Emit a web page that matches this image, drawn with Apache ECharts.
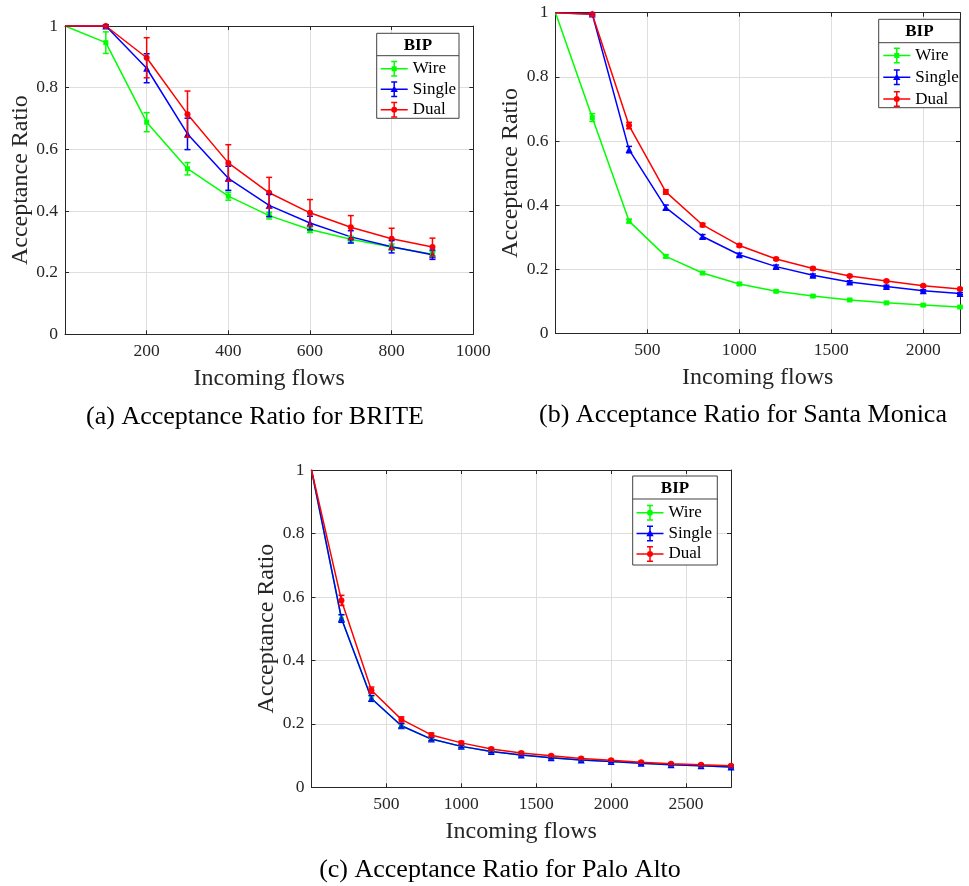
<!DOCTYPE html>
<html>
<head>
<meta charset="utf-8">
<script src="https://cdn.jsdelivr.net/npm/echarts@6/dist/echarts.min.js"></script>
<style>html,body{margin:0;padding:0;background:#fff}#c{width:969px;height:886px}</style>
</head>
<body>
<div id="c"></div>
<script>
// ---------- data: (a) BRITE ----------
const xA = [0, 100, 200, 300, 400, 500, 600, 700, 800, 900];
const wireA = [1, 0.946, 0.688, 0.537, 0.448, 0.385, 0.340, 0.308, 0.283, 0.260];
const wireAErr = [0, 0.035, 0.031, 0.020, 0.013, 0.011, 0.010, 0.010, 0.010, 0.008];
const singleA = [1, 1.0, 0.863, 0.650, 0.506, 0.418, 0.361, 0.316, 0.284, 0.258];
const singleAErr = [0, 0.004, 0.047, 0.051, 0.039, 0.036, 0.022, 0.020, 0.020, 0.015];
const dualA = [1, 1.0, 0.897, 0.714, 0.556, 0.459, 0.394, 0.347, 0.310, 0.283];
const dualAErr = [0, 0.003, 0.065, 0.075, 0.059, 0.050, 0.043, 0.038, 0.034, 0.029];

// ---------- data: (b) Santa Monica ----------
const xB = [0, 200, 400, 600, 800, 1000, 1200, 1400, 1600, 1800, 2000, 2200];
const wireB = [1, 0.673, 0.350, 0.240, 0.188, 0.154, 0.131, 0.116, 0.104, 0.095, 0.088, 0.082];
const wireBErr = [0, 0.012, 0.006, 0.005, 0.004, 0.004, 0.003, 0.003, 0.003, 0.003, 0.003, 0.003];
const singleB = [1, 0.996, 0.573, 0.392, 0.302, 0.245, 0.208, 0.181, 0.160, 0.146, 0.133, 0.124];
const singleBErr = [0, 0.004, 0.010, 0.008, 0.006, 0.005, 0.005, 0.004, 0.004, 0.004, 0.003, 0.003];
const dualB = [1, 0.995, 0.648, 0.441, 0.338, 0.274, 0.232, 0.202, 0.179, 0.163, 0.148, 0.138];
const dualBErr = [0, 0.004, 0.010, 0.007, 0.005, 0.004, 0.004, 0.004, 0.003, 0.003, 0.003, 0.003];

// ---------- data: (c) Palo Alto ----------
const xC = [0, 200, 400, 600, 800, 1000, 1200, 1400, 1600, 1800, 2000, 2200, 2400, 2600, 2800];
const wireC = [1, 0.532, 0.280, 0.194, 0.152, 0.129, 0.113, 0.102, 0.093, 0.086, 0.081, 0.0755, 0.071, 0.068, 0.064];
const wireCErr = [0, 0.012, 0.009, 0.007, 0.005, 0.004, 0.004, 0.003, 0.003, 0.003, 0.003, 0.003, 0.003, 0.003, 0.003];
const singleC = [1, 0.532, 0.280, 0.194, 0.152, 0.129, 0.113, 0.102, 0.093, 0.086, 0.081, 0.0755, 0.071, 0.068, 0.064];
const singleCErr = [0, 0.012, 0.009, 0.007, 0.005, 0.004, 0.004, 0.003, 0.003, 0.003, 0.003, 0.003, 0.003, 0.003, 0.003];
const dualC = [1, 0.589, 0.306, 0.214, 0.165, 0.140, 0.121, 0.108, 0.0997, 0.091, 0.085, 0.079, 0.0745, 0.071, 0.068];
const dualCErr = [0, 0.016, 0.010, 0.008, 0.006, 0.005, 0.004, 0.004, 0.003, 0.003, 0.003, 0.003, 0.003, 0.003, 0.003];

const yTicks = [0, 0.2, 0.4, 0.6, 0.8, 1];
const seriesNames = ['Wire', 'Single', 'Dual'];
const captions = ['(a) Acceptance Ratio for BRITE', '(b) Acceptance Ratio for Santa Monica', '(c) Acceptance Ratio for Palo Alto'];
const legendTitle = 'BIP';
const xName = 'Incoming flows';
const yName = 'Acceptance Ratio';

// ---------- styling ----------
const FONT = 'Liberation Serif';
const GREEN = '#00ff00', BLUE = '#0000ff', RED = '#ff0000';
const AXC = '#262626';
const GRIDC = '#dedede';

const grids = [
  { left: 65, top: 26, width: 408.3, height: 308.3 },
  { left: 555.5, top: 12.7, width: 404.5, height: 320.6 },
  { left: 311.5, top: 470, width: 419.5, height: 317.3 }
];
const xCfg = [
  { min: 0, max: 1000, interval: 200, showMax: true },
  { min: 0, max: 2200, interval: 500, showMax: false },
  { min: 0, max: 2800, interval: 500, showMax: false }
];
const plainNum = v => String(+v.toFixed(6));

const xAxes = [], yAxes = [];
xCfg.forEach((c, i) => {
  xAxes.push({
    type: 'value', gridIndex: i, min: c.min, max: c.max, interval: c.interval, position: 'bottom',
    name: xName, nameLocation: 'middle', nameGap: 32,
    nameTextStyle: { fontFamily: FONT, fontSize: 24, color: AXC },
    axisLine: { show: true, onZero: false, lineStyle: { color: AXC, width: 1 } },
    axisTick: { show: true, inside: true, length: 4, lineStyle: { color: AXC } },
    axisLabel: { fontFamily: FONT, fontSize: 17.5, color: AXC, margin: 8, showMinLabel: false, showMaxLabel: c.showMax, formatter: plainNum },
    splitLine: { show: true, lineStyle: { color: GRIDC, width: 1 } }
  });
  xAxes.push({
    type: 'value', gridIndex: i, min: c.min, max: c.max, interval: c.interval, position: 'top',
    axisLine: { show: true, onZero: false, lineStyle: { color: AXC, width: 1 } },
    axisTick: { show: true, inside: true, length: 4, lineStyle: { color: AXC } },
    axisLabel: { show: false }, splitLine: { show: false }
  });
  yAxes.push({
    type: 'value', gridIndex: i, min: yTicks[0], max: yTicks[yTicks.length - 1], interval: 0.2, position: 'left',
    name: yName, nameLocation: 'middle', nameGap: 32, nameRotate: 90,
    nameTextStyle: { fontFamily: FONT, fontSize: 24, color: AXC },
    axisLine: { show: true, onZero: false, lineStyle: { color: AXC, width: 1 } },
    axisTick: { show: true, inside: true, length: 4, lineStyle: { color: AXC } },
    axisLabel: { fontFamily: FONT, fontSize: 17.5, color: AXC, margin: 7, formatter: plainNum },
    splitLine: { show: true, lineStyle: { color: GRIDC, width: 1 } }
  });
  yAxes.push({
    type: 'value', gridIndex: i, min: 0, max: 1, interval: 0.2, position: 'right',
    axisLine: { show: true, onZero: false, lineStyle: { color: AXC, width: 1 } },
    axisTick: { show: true, inside: true, length: 4, lineStyle: { color: AXC } },
    axisLabel: { show: false }, splitLine: { show: false }
  });
});

function errRender(params, api) {
  const x = api.value(0), y = api.value(1), e = api.value(2);
  if (!e) return null;
  const t = api.coord([x, y + e]), b = api.coord([x, y - e]);
  const c = api.visual('color');
  const w = 3;
  const st = { stroke: c, lineWidth: 1.5 };
  return {
    type: 'group', children: [
      { type: 'line', shape: { x1: t[0], y1: t[1], x2: b[0], y2: b[1] }, style: st },
      { type: 'line', shape: { x1: t[0] - w, y1: t[1], x2: t[0] + w, y2: t[1] }, style: st },
      { type: 'line', shape: { x1: b[0] - w, y1: b[1], x2: b[0] + w, y2: b[1] }, style: st }
    ]
  };
}

const errSeries = [], lineSeries = [];
function addSet(gi, name, xs, ys, es, color, symbol, size) {
  errSeries.push({
    type: 'custom', name: name, xAxisIndex: gi * 2, yAxisIndex: gi * 2,
    itemStyle: { color: color }, z: 3, silent: true,
    encode: { x: 0, y: 1 },
    renderItem: errRender,
    data: xs.map((x, k) => [x, ys[k], es[k]])
  });
  lineSeries.push({
    type: 'line', name: name, xAxisIndex: gi * 2, yAxisIndex: gi * 2,
    color: color, symbol: symbol, symbolSize: size, showSymbol: true, clip: false,
    lineStyle: { color: color, width: 1.5 }, itemStyle: { color: color },
    z: 2, silent: true, animation: false,
    data: xs.map((x, k) => k === 0 ? { value: [x, ys[k]], symbol: 'none' } : [x, ys[k]])
  });
}
addSet(0, 'Wire', xA, wireA, wireAErr, GREEN, 'rect', 5);
addSet(0, 'Single', xA, singleA, singleAErr, BLUE, 'triangle', 7);
addSet(0, 'Dual', xA, dualA, dualAErr, RED, 'circle', 6);
addSet(1, 'Wire', xB, wireB, wireBErr, GREEN, 'rect', 5);
addSet(1, 'Single', xB, singleB, singleBErr, BLUE, 'triangle', 7);
addSet(1, 'Dual', xB, dualB, dualBErr, RED, 'circle', 6);
addSet(2, 'Wire', xC, wireC, wireCErr, GREEN, 'circle', 5);
addSet(2, 'Single', xC, singleC, singleCErr, BLUE, 'triangle', 7);
addSet(2, 'Dual', xC, dualC, dualCErr, RED, 'circle', 6);

// legend icons (errorbar glyph), 27x16 box
const base = 'M0,7.25H27V8.75H0Z M12.75,0.5H14.25V15.5H12.75Z M10.5,0H16.5V1.5H10.5Z M10.5,14.5H16.5V16H10.5Z ';
const icSquare = 'path://' + base + 'M11,5.5H16V10.5H11Z';
const icTri = 'path://' + base + 'M13.5,4.2L17.2,10.8H9.8Z';
const icCircle = 'path://' + base + 'M10.5,8A3,3 0 1,1 16.5,8A3,3 0 1,1 10.5,8Z';

const legendPos = [
  { left: 380.7, top: 60.3, gap: 3.5, icons: [icSquare, icTri, icCircle] },
  { left: 883.3, top: 47, gap: 4.8, icons: [icSquare, icTri, icCircle] },
  { left: 636.5, top: 504.3, gap: 3.6, icons: [icCircle, icTri, icCircle] }
];
const legends = legendPos.map(p => ({
  orient: 'vertical', left: p.left, top: p.top, padding: 0, itemGap: p.gap,
  itemWidth: 27, itemHeight: 16, selectedMode: false, z: 10, symbolKeepAspect: false,
  textStyle: { fontFamily: FONT, fontSize: 17, color: '#000', lineHeight: 16 },
  data: seriesNames.map((n, k) => ({ name: n, icon: p.icons[k] }))
}));

const boxes = [
  { x1: 376.7, x2: 459, y1: 33.3, yd: 55.7, y2: 118.3 },
  { x1: 878.7, x2: 960, y1: 19.3, yd: 42.7, y2: 107.7 },
  { x1: 632.7, x2: 717.3, y1: 476, yd: 499, y2: 565 }
];
const graphics = [];
boxes.forEach(b => {
  graphics.push({ type: 'rect', z: 8, shape: { x: b.x1, y: b.y1, width: b.x2 - b.x1, height: b.y2 - b.y1 },
    style: { fill: '#fff', stroke: '#404040', lineWidth: 1 } });
  graphics.push({ type: 'line', z: 9, shape: { x1: b.x1, y1: b.yd, x2: b.x2, y2: b.yd },
    style: { stroke: '#404040', lineWidth: 1 } });
  graphics.push({ type: 'text', z: 9, x: (b.x1 + b.x2) / 2, y: (b.y1 + b.yd) / 2 + 1,
    style: { text: legendTitle, fontFamily: FONT, fontSize: 17, fontWeight: 'bold', fill: '#000', align: 'center', verticalAlign: 'middle' } });
});
const capPos = [[255, 417], [743, 415], [500, 870]];
captions.forEach((t, i) => {
  graphics.push({ type: 'text', x: capPos[i][0], y: capPos[i][1],
    style: { text: t, fontFamily: FONT, fontSize: 26, fill: '#000', align: 'center', verticalAlign: 'middle' } });
});

const chart = echarts.init(document.getElementById('c'), null, { renderer: 'canvas' });
chart.setOption({
  animation: false,
  backgroundColor: '#fff',
  grid: grids.map(g => Object.assign({ containLabel: false }, g)),
  xAxis: xAxes,
  yAxis: yAxes,
  legend: legends,
  series: errSeries.concat(lineSeries),
  graphic: graphics
});
</script>
</body>
</html>
